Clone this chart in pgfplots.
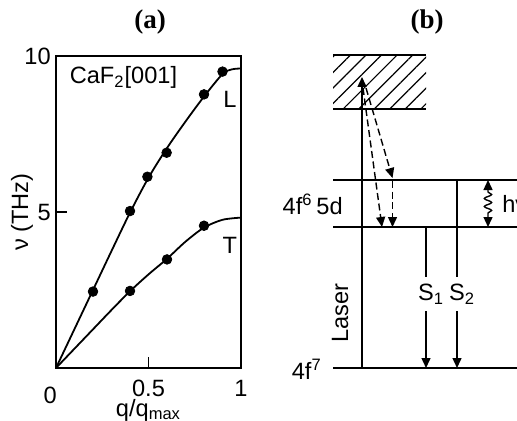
\documentclass[border=0pt]{standalone}
\usepackage{fontspec}
\setmainfont{Liberation Sans}
\newfontfamily\titlefont{Liberation Serif}
\usepackage{pgfplots}
\pgfplotsset{compat=1.18}
\usetikzlibrary{arrows.meta,patterns.meta,decorations.pathmorphing}

\tikzset{tip/.style={-{Triangle[length=5pt,width=4.5pt]}}}

\begin{document}
\fontsize{11.8}{14}\selectfont
\begin{tikzpicture}
% (a) dispersion curves
\begin{axis}[
  at={(74.25pt,-106pt)}, anchor=center,
  scale only axis, width=92.5pt, height=156pt,
  xmin=0, xmax=1, ymin=0, ymax=10,
  axis line style={line width=0.7pt},
  xtick={0.5}, ytick={5},
  extra x ticks={1}, extra y ticks={10},
  extra tick style={major tick length=0pt},
  xtick pos=bottom, ytick pos=left,
  tick style={black, line width=0.6pt}, major tick length=5.5pt,
  /pgf/number format/assume math mode=true,
  xticklabel style={yshift=-2pt},
  yticklabel style={xshift=1.5pt},
  xlabel={q/q\textsubscript{max}},
  ylabel={ν (THz)},
  xlabel style={at={(axis description cs:0.5,-0.135)}, anchor=center},
  ylabel style={at={(axis description cs:-0.184,0.5)}, anchor=center},
  clip=false,
]
\addplot[smooth, line width=0.9pt] coordinates {
  (0,0) (0.1,1.25) (0.2,2.5) (0.3,3.75) (0.4,4.98) (0.5,6.1) (0.6,7.05)
  (0.7,7.9) (0.8,8.7) (0.9,9.42) (0.95,9.57) (1,9.6)
};
\addplot[smooth, line width=0.9pt] coordinates {
  (0,0) (0.1,0.62) (0.2,1.24) (0.3,1.86) (0.4,2.46) (0.5,3.0) (0.6,3.5)
  (0.7,4.05) (0.8,4.5) (0.9,4.75) (1,4.82)
};
\addplot[only marks, mark=*, mark size=2.4pt] coordinates {
  (0.2,2.45) (0.4,5.03) (0.494,6.13) (0.598,6.9) (0.8,8.77) (0.9,9.5)
};
\addplot[only marks, mark=*, mark size=2.4pt] coordinates {
  (0.4,2.47) (0.6,3.48) (0.8,4.56)
};
\node[anchor=north, yshift=-5.5pt] at (axis cs:-0.032,0) {0};
\node[anchor=west] at (axis cs:0.03,9.3) {CaF\textsubscript{2}[001]};
\node at (axis cs:0.94,8.6) {L};
\node at (axis cs:0.94,3.94) {T};
\end{axis}

% (b) level scheme, drawn in pixel units of the whole picture
\begin{axis}[
  at={(129.25pt,-105.25pt)}, anchor=center,
  scale only axis, width=258.5pt, height=210.5pt,
  xmin=0, xmax=517, ymin=0, ymax=421, y dir=reverse,
  hide axis, clip=false,
]
\node[font=\fontsize{13.5}{15}\titlefont\bfseries] at (axis cs:150,22) {(a)};
\node[font=\fontsize{13.5}{15}\titlefont\bfseries] at (axis cs:427,22) {(b)};

\addplot[draw=none, pattern={Lines[angle=45,distance=5.5pt,line width=0.6pt]}]
  coordinates {(333,55) (426,55) (426,109) (333,109)} -- cycle;
\addplot[line width=0.7pt] coordinates {(333,55) (426,55)};
\addplot[line width=0.7pt] coordinates {(333,109) (426,109)};
\addplot[line width=0.7pt] coordinates {(333,180) (520,180)};
\addplot[line width=0.7pt] coordinates {(333,227) (520,227)};
\addplot[line width=0.7pt] coordinates {(333,368) (520,368)};

\addplot[line width=0.7pt, tip] coordinates {(362,368) (362,77)};
\addplot[line width=0.7pt, tip, dash pattern=on 3.5pt off 1.8pt] coordinates {(363,88) (382,227)};
\addplot[line width=0.7pt, tip, dash pattern=on 3.5pt off 1.8pt] coordinates {(366,88) (392.5,178)};
\addplot[line width=0.7pt, tip, dash pattern=on 3.5pt off 1.8pt] coordinates {(392.5,181) (392.5,227)};

\addplot[line width=0.7pt, tip] coordinates {(426,227) (426,368)};
\addplot[line width=0.7pt, tip] coordinates {(457,180) (457,368)};
\addplot[line width=0.7pt, {Triangle[length=5pt,width=4.5pt]}-{Triangle[length=5pt,width=4.5pt]},
  decorate, decoration={snake, amplitude=1.8pt, segment length=4pt, pre length=6pt, post length=6pt}]
  coordinates {(488,180) (488,227)};

\node[fill=white, inner xsep=0pt, inner ysep=3.5pt] at (axis cs:426,294) {S\rlap{\textsubscript{1}}};
\node[fill=white, inner xsep=0pt, inner ysep=3.5pt] at (axis cs:457,294) {S\rlap{\textsubscript{2}}};
\node[anchor=west] at (axis cs:494,204) {hν};
\node[anchor=east] at (axis cs:351,204) {4f\textsuperscript{6}\,5d};
\node[anchor=east] at (axis cs:330,369) {4f\textsuperscript{7}};
\node[rotate=90] at (axis cs:340,313) {Laser};
\end{axis}
\pgfresetboundingbox
\path[use as bounding box] (0,0) rectangle (258.5pt,-210.5pt);
\end{tikzpicture}
\end{document}
